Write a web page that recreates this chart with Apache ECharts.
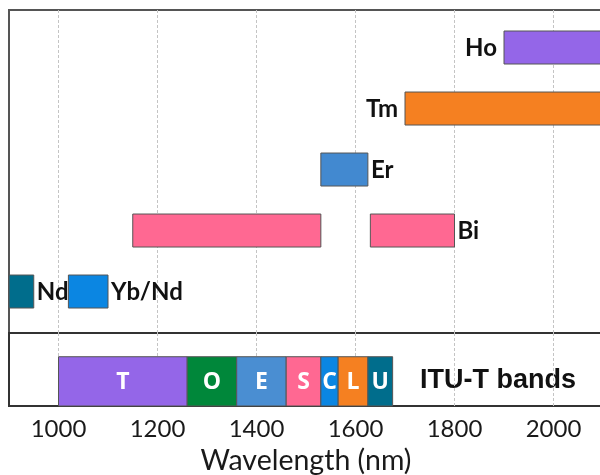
<!DOCTYPE html>
<html>
<head>
<meta charset="utf-8">
<script src="https://cdn.jsdelivr.net/npm/echarts@6/dist/echarts.min.js"></script>
<style>
  html, body { margin: 0; padding: 0; background: #fff; overflow: hidden; }
  #chart { width: 610px; height: 475px; }
</style>
</head>
<body>
<div id="chart"></div>
<script>
// Gain media (upper panel): emission spans in nm
const mediaNames  = ['Nd', 'Yb/Nd', 'Bi', 'Bi', 'Er', 'Tm', 'Ho'];
const mediaStart  = [880, 1020, 1150, 1630, 1530, 1700, 1900];
const mediaEnd    = [950, 1100, 1530, 1800, 1625, 2200, 2200];
const mediaRow    = [0, 0, 1, 1, 2, 3, 4];
const mediaLabel  = ['Nd', 'Yb/Nd', '', 'Bi', 'Er', 'Tm', 'Ho'];
const mediaSide   = ['right', 'right', 'right', 'right', 'right', 'left', 'left'];
const mediaColors = ['#006D8C', '#0B86E2', '#FF6892', '#FF6892', '#4289D0', '#F58021', '#9466E8'];

// ITU-T telecom bands (lower panel)
const bandNames  = ['T', 'O', 'E', 'S', 'C', 'L', 'U'];
const bandStart  = [1000, 1260, 1360, 1460, 1530, 1565, 1625];
const bandEnd    = [1260, 1360, 1460, 1530, 1565, 1625, 1675];
const bandColors = ['#9466E8', '#00873A', '#4A8ED2', '#FF6892', '#0B86E2', '#F58021', '#006D8C'];

// Axis ticks
const xMin = 900, xMax = 2100, xStep = 100;
const labelledTicks = [1000, 1200, 1400, 1600, 1800, 2000];

const chart = echarts.init(document.getElementById('chart'), null, { renderer: 'canvas' });

function spanItem(params, api, opts) {
  const x0 = api.value(0), x1 = api.value(1), row = api.value(2);
  const p0 = api.coord([x0, row]);
  const p1 = api.coord([x1, row]);
  const h = opts.height(api);
  const yTop = opts.top(p0, h);
  const cs = params.coordSys;
  const rect = echarts.graphic.clipRectByRect(
    { x: p0[0], y: yTop, width: p1[0] - p0[0], height: h },
    { x: cs.x, y: cs.y, width: cs.width, height: cs.height }
  );
  if (!rect) return null;
  const children = [{
    type: 'rect',
    shape: rect,
    style: { fill: opts.color(params.dataIndex), stroke: '#555', lineWidth: 1 }
  }];
  const txt = opts.text(params.dataIndex);
  if (txt) {
    const side = opts.side(params.dataIndex);
    let tx, align;
    if (side === 'left') { tx = p0[0] - 7; align = 'right'; }
    else if (side === 'right') { tx = p1[0] + 3; align = 'left'; }
    else { tx = rect.x + rect.width / 2; align = 'center'; }
    children.push({
      type: 'text',
      style: {
        x: tx, y: yTop + h / 2 + 1,
        text: txt,
        fill: opts.textColor,
        font: opts.font,
        align: align,
        verticalAlign: 'middle'
      }
    });
  }
  return { type: 'group', children: children };
}

const gridLineStyle = { color: ['rgba(0,0,0,0)', '#c4c4c4'], type: [3, 2], width: 1 };

const option = {
  animation: false,
  grid: [
    { left: 9, right: 7, top: 10, height: 323, outerBoundsMode: 'none', containLabel: false,
      show: true, borderColor: '#555', borderWidth: 2, backgroundColor: 'transparent' },
    { left: 9, right: 7, top: 333, height: 73, outerBoundsMode: 'none', containLabel: false,
      show: true, borderColor: '#333', borderWidth: 2, backgroundColor: 'transparent' }
  ],
  xAxis: [
    {
      gridIndex: 0, type: 'value', min: xMin, max: xMax, interval: xStep,
      axisLine: { show: false }, axisTick: { show: false }, axisLabel: { show: false },
      splitLine: { show: true, showMinLine: true, lineStyle: gridLineStyle }
    },
    {
      gridIndex: 1, type: 'value', min: xMin, max: xMax, interval: xStep,
      axisLine: { show: false }, axisTick: { show: false },
      axisLabel: {
        show: true, margin: 11, color: '#1a1a1a',
        fontFamily: 'Lato', fontSize: 24,
        formatter: v => labelledTicks.indexOf(v) >= 0 ? String(v) : ''
      },
      splitLine: { show: true, showMinLine: true, lineStyle: gridLineStyle },
      name: 'Wavelength (nm)', nameLocation: 'middle', nameGap: 40,
      nameTextStyle: { color: '#1a1a1a', fontFamily: 'Lato', fontSize: 28.5 }
    }
  ],
  yAxis: [
    { gridIndex: 0, type: 'value', min: -0.68, max: 4.615, show: false, splitLine: { show: false } },
    { gridIndex: 1, type: 'value', min: 0, max: 1, show: false, splitLine: { show: false } }
  ],
  series: [
    {
      type: 'custom', xAxisIndex: 0, yAxisIndex: 0,
      data: mediaStart.map((s, i) => [s, mediaEnd[i], mediaRow[i], mediaNames[i]]),
      renderItem: (params, api) => spanItem(params, api, {
        height: () => 33,
        top: (p, h) => p[1] - h / 2,
        color: i => mediaColors[i],
        text: i => mediaLabel[i],
        side: i => mediaSide[i],
        textColor: '#111',
        font: 'bold 24px Lato'
      })
    },
    {
      type: 'custom', xAxisIndex: 1, yAxisIndex: 1,
      data: bandStart.map((s, i) => [s, bandEnd[i], 0, bandNames[i]]),
      renderItem: (params, api) => spanItem(params, api, {
        height: a => a.coord([0, 0])[1] - a.coord([0, 0.675])[1],
        top: (p, h) => p[1] - h,
        color: i => bandColors[i],
        text: i => bandNames[i],
        side: () => 'center',
        textColor: '#fff',
        font: 'bold 23px "Open Sans"'
      })
    }
  ],
  graphic: [
    {
      type: 'text', left: 420, top: 367,
      style: { text: 'ITU-T bands', fill: '#111', font: 'bold 27px "Liberation Sans"' }
    }
  ]
};

chart.setOption(option);
</script>
</body>
</html>
